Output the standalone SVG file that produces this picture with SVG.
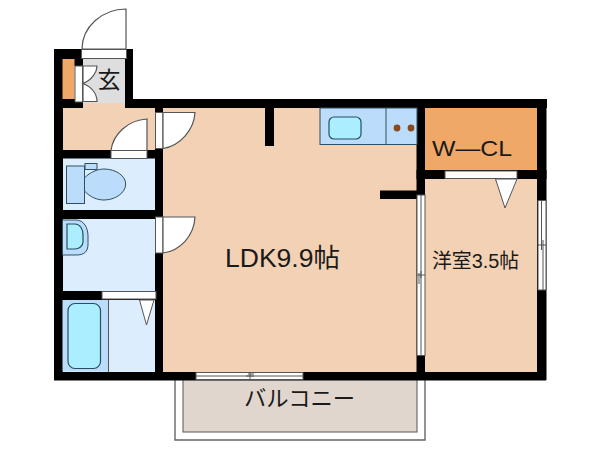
<svg xmlns="http://www.w3.org/2000/svg" width="600" height="450" viewBox="0 0 600 450">
<style>
.wall{fill:#000}
.fl{fill:#F2D1B4}
.wet{fill:#DCEEFE}
.blue{fill:#BBDDFB;stroke:#2F5060;stroke-width:1}
.cyan{fill:#AAEEFF;stroke:#24505F;stroke-width:1.2}
.door{fill:#fff;stroke:#555;stroke-width:1}
.leaf{fill:#fff;stroke:#555;stroke-width:1.2}
.ln{fill:none;stroke:#555;stroke-width:1}
.bal{fill:none;stroke:#666;stroke-width:1.4}
text{font-family:"Liberation Sans","Noto Sans CJK JP",sans-serif;fill:#1a1a1a}
</style>
<rect width="600" height="450" fill="#fff"/>
<g id="balcony">
<rect x="183" y="376" width="234" height="56" fill="#E0D6CD" stroke="#555" stroke-width="1"/>
<path class="bal" d="M175 378V440H425V378"/>
<text x="244" y="406" font-size="22" textLength="111" lengthAdjust="spacingAndGlyphs" font-family="'Noto Sans CJK JP',sans-serif">バルコニー</text>
</g>
<g id="floors">
<rect class="fl" x="62" y="103" width="96" height="49"/>
<rect class="fl" x="160" y="105" width="258" height="268"/>
<rect class="fl" x="423" y="176" width="116" height="198"/>
<rect x="425" y="108" width="112" height="63" fill="#F0A868"/>
<rect x="80" y="58" width="46" height="45" fill="#DEDEDE"/>
<rect class="wet" x="62" y="158" width="94" height="53"/>
<rect class="wet" x="62" y="218" width="94" height="74"/>
<rect class="wet" x="62" y="299" width="94" height="74"/>
</g>
<g id="walls">
<rect class="wall" x="54" y="49" width="9" height="331"/>
<rect class="wall" x="54" y="49" width="79" height="10"/>
<rect class="wall" x="125" y="49" width="8" height="59"/>
<rect class="wall" x="54" y="99" width="29" height="9"/>
<rect class="wall" x="74" y="59" width="9" height="7"/>
<rect class="wall" x="74" y="99" width="9" height="9"/>
<rect class="wall" x="125" y="99" width="422" height="9"/>
<rect class="wall" x="155" y="99" width="8" height="281"/>
<rect class="wall" x="54" y="150" width="109" height="8.500"/>
<rect class="wall" x="54" y="210" width="109" height="9"/>
<rect class="wall" x="54" y="291" width="109" height="9"/>
<rect class="wall" x="54" y="372" width="492" height="8.500"/>
<rect class="wall" x="537" y="99" width="9.500" height="281"/>
<rect class="wall" x="416.500" y="99" width="8.500" height="281"/>
<rect class="wall" x="416.500" y="170" width="130" height="9"/>
<rect class="wall" x="380" y="190.500" width="37" height="8.500"/>
<rect class="wall" x="265" y="108" width="9" height="38"/>
</g>
<g id="entrance">
<rect x="62.500" y="59" width="12" height="40" fill="#F0A868"/>
<path class="leaf" d="M126 9V49H82C82 27 102 9 126 9Z"/>
<rect x="81.500" y="49.500" width="45" height="9" class="door"/>
<rect x="75" y="66" width="7.500" height="36" class="door"/>
<path class="leaf" d="M83 66H97C97 72 92 80 83 83.500C92 87 97 94 97 101.500H83Z"/>
<text x="109" y="88" font-size="23" text-anchor="middle" font-family="'Noto Sans CJK JP',sans-serif">玄</text>
</g>
<g id="doors">
<rect class="door" x="111" y="150.500" width="36" height="8"/>
<path class="leaf" d="M147 119V150.500H111C113 134 128 120 147 119Z"/>
<rect class="door" x="155.500" y="112.500" width="7.500" height="36"/>
<path class="leaf" d="M163 112.500H195C194 130 180 146 163 148.500Z"/>
<rect class="door" x="155.500" y="217" width="7.500" height="36"/>
<path class="leaf" d="M163 217H195C194 236 180 251 163 253Z"/>
<rect class="door" x="102" y="291.500" width="54" height="7.500"/>
<rect class="door" x="445" y="171" width="72" height="7.500"/>
<path class="door" d="M495.500 179H517L505 208Z"/>
<path class="door" d="M139.500 300H154L146.500 325Z"/>
</g>
<g id="windows">
<rect class="door" x="196" y="372.500" width="107" height="7"/>
<path class="ln" d="M196 376H254M250 372.500V380M248 374H254M246 376H303"/>
<rect class="door" x="417" y="195" width="8" height="160.500"/>
<path class="ln" d="M421 195V278M417 275H425M419 273V284M421 271V355.500"/>
<rect class="door" x="538" y="200.500" width="8" height="89.500"/>
<path class="ln" d="M541.500 200.500V250M538 245H546M543 240V290"/>
</g>
<g id="toilet">
<rect class="blue" x="66.500" y="166" width="18" height="37.500"/>
<rect class="blue" x="85" y="163.500" width="12" height="6"/>
<path class="blue" d="M84.500 178C90 172 98 169 104 169C116 169 125.700 176 125.700 184C125.700 193 115 200 104 200C97 200 90 197 84.500 191Z"/>
</g>
<g id="washbasin">
<path class="blue" d="M62.500 220H76C84 220 88 228 88 236V244C88 252 84 255 76 255H62.500Z"/>
<path class="cyan" d="M67 224H75C80 224 83 229 83 235V242C83 246 79 249 75 249H67Z"/>
</g>
<g id="bath">
<rect x="62.500" y="300" width="46" height="71.500" fill="#BBDDFB"/>
<path class="ln" d="M108.500 300V372"/>
<rect class="cyan" x="68" y="303.500" width="32.500" height="65" rx="7"/>
</g>
<g id="kitchen">
<rect class="blue" x="320" y="108" width="97" height="36.500"/>
<path d="M386 108V144.500" fill="none" stroke="#2F5060"/>
<rect class="cyan" x="329" y="117" width="32" height="22" rx="5"/>
<circle cx="397" cy="128" r="3.400" fill="#8A4A1C"/>
<circle cx="411" cy="128" r="3.400" fill="#8A4A1C"/>
</g>
<g id="labels">
<text x="225" y="266.500" font-size="26" textLength="115" lengthAdjust="spacingAndGlyphs">LDK9.9帖</text>
<text x="432" y="155.500" font-size="22" textLength="80" lengthAdjust="spacingAndGlyphs">W—CL</text>
<text x="432" y="268" font-size="20" textLength="87" lengthAdjust="spacingAndGlyphs">洋室3.5帖</text>
</g>
</svg>
